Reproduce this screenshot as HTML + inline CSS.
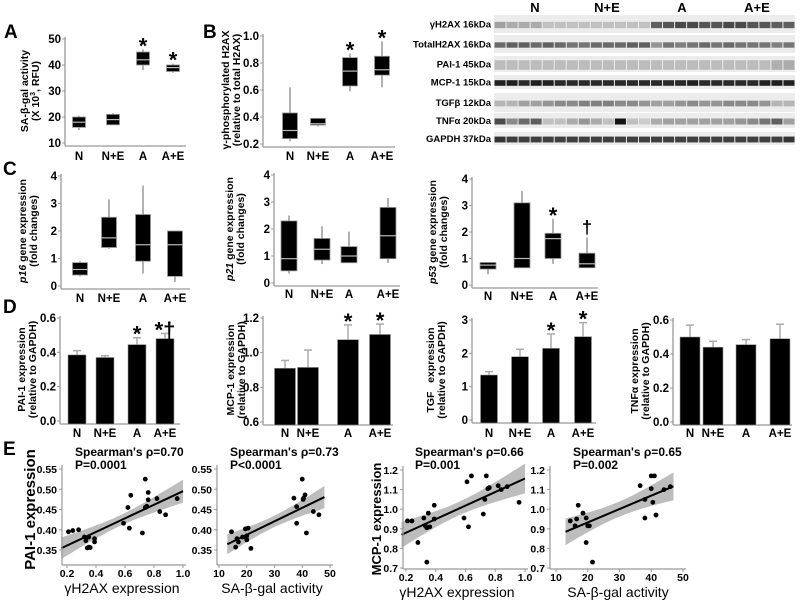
<!DOCTYPE html>
<html><head><meta charset="utf-8">
<style>
html,body{margin:0;padding:0;background:#fff;}
svg{display:block;font-family:"Liberation Sans",Arial,sans-serif;}
</style></head>
<body>
<svg id="fig" width="800" height="601" viewBox="0 0 800 601" xmlns="http://www.w3.org/2000/svg">
<g font-weight="bold" font-size="19">
<text x="4" y="38">A</text>
<text x="203" y="38">B</text>
<text x="3" y="175">C</text>
<text x="3" y="313">D</text>
<text x="3" y="455">E</text>
</g>
</svg>
<script>
// ---------- DATA ----------
const groups = ["N","N+E","A","A+E"];
// Panel A: SA-beta-gal box plots [whiskLo, q1, median, q3, whiskHi]
const saLo = [15, 17, 38, 37];
const saQ1 = [16, 17, 40, 37.5];
const saMed = [18, 19, 42, 39];
const saQ3 = [20, 21, 45, 40];
const saHi = [20.5, 21.5, 46, 40.5];
const saTicks = [10,20,30,40,50];
const saMarks = ["", "", "*", "*"];
// Panel B: gamma-H2AX
const hLo = [0.22, 0.33, 0.59, 0.62];
const hQ1 = [0.24, 0.34, 0.63, 0.71];
const hMed = [0.30, 0.35, 0.74, 0.75];
const hQ3 = [0.43, 0.39, 0.84, 0.85];
const hHi = [0.62, 0.39, 0.87, 0.96];
const hTicks = [0.2,0.4,0.6,0.8,1.0];
const hMarks = ["", "", "*", "*"];
// Panel C: p16
const p16Lo = [0.35, 1.35, 0.45, 0.15];
const p16Q1 = [0.4, 1.4, 0.9, 0.35];
const p16Med = [0.6, 1.75, 1.5, 1.5];
const p16Q3 = [0.85, 2.5, 2.6, 2.0];
const p16Hi = [0.9, 3.15, 3.65, 2.0];
// p21
const p21Lo = [0.35, 0.7, 0.75, 0.75];
const p21Q1 = [0.45, 0.85, 0.75, 0.9];
const p21Med = [0.9, 1.25, 1.0, 1.75];
const p21Q3 = [2.3, 1.65, 1.35, 2.8];
const p21Hi = [2.5, 2.1, 1.9, 3.15];
// p53
const p53Lo = [0.4, 0.65, 0.8, 0.65];
const p53Q1 = [0.6, 0.65, 1.0, 0.65];
const p53Med = [0.75, 1.0, 1.75, 0.8];
const p53Q3 = [0.85, 3.1, 1.95, 1.2];
const p53Hi = [0.85, 3.55, 2.5, 1.8];
const p53Marks = ["", "", "*", "†"];
const cTicks = [0,1,2,3,4];
// Panel D bar charts: mean and mean+SEM
const paiMean = [0.385, 0.37, 0.445, 0.48];
const paiErr = [0.41, 0.38, 0.485, 0.51];
const paiTicks = [0.0,0.2,0.4,0.6];
const paiMarks = ["", "", "*", "*†"];
const mcpMean = [0.91, 0.915, 1.075, 1.105];
const mcpErr = [0.955, 1.015, 1.16, 1.165];
const mcpTicks = [0.6,0.8,1.0,1.2];
const mcpMarks = ["", "", "*", "*"];
const tgfMean = [1.35, 1.9, 2.15, 2.5];
const tgfErr = [1.45, 2.12, 2.58, 2.92];
const tgfTicks = [0,1,2,3];
const tgfMarks = ["", "", "*", "*"];
const tnfMean = [0.5, 0.44, 0.455, 0.49];
const tnfErr = [0.57, 0.475, 0.485, 0.575];
const tnfTicks = [0.0,0.2,0.4,0.6];
// Panel E scatter data
const e1X = [0.21,0.24,0.28,0.32,0.33,0.35,0.34,0.36,0.35,0.39,0.39,0.59,0.62,0.63,0.64,0.72,0.74,0.74,0.75,0.76,0.76,0.82,0.84,0.88,0.96];
const e1Y = [0.395,0.398,0.400,0.382,0.373,0.382,0.355,0.356,0.357,0.378,0.370,0.416,0.455,0.404,0.485,0.392,0.525,0.455,0.458,0.474,0.492,0.477,0.445,0.437,0.477];
const e2X = [14.5,16,16.5,17,18.5,19.5,19.8,20,20,20.5,21.5,37,38,38,40,40.3,40.5,41,41.5,44,46];
const e2Y = [0.395,0.357,0.378,0.370,0.382,0.402,0.380,0.375,0.385,0.404,0.354,0.478,0.457,0.416,0.525,0.475,0.478,0.486,0.392,0.445,0.437];
const e3X = [0.21,0.24,0.28,0.32,0.33,0.34,0.35,0.36,0.34,0.39,0.39,0.59,0.61,0.62,0.64,0.72,0.73,0.74,0.75,0.76,0.82,0.84,0.88,0.96];
const e3Y = [0.94,0.94,0.83,0.955,0.915,0.905,0.98,0.91,0.73,1.02,0.95,0.955,1.14,0.91,1.17,0.975,1.05,1.17,1.105,1.11,1.12,1.10,1.115,1.035];
const e4X = [14.5,16,16.5,17,18.5,19.5,19.5,20,20.5,21.5,36.5,38,38,40,40,40.5,41,41.5,44,46];
const e4Y = [0.94,0.915,0.95,1.02,0.98,0.955,0.83,0.915,0.915,0.73,1.12,0.955,1.05,1.17,1.105,1.035,1.17,0.97,1.10,1.115];
const gTicksX = [0.2,0.4,0.6,0.8,1.0];
const saTicksX = [10,20,30,40,50];
const paiTicksE = [0.35,0.40,0.45,0.50,0.55];
const mcpTicksE = [0.7,0.8,0.9,1.0,1.1,1.2];
// Western blot lane intensities (0 = white, 1 = black), 25 lanes
const wbLabels = ["γH2AX 16kDa","TotalH2AX 16kDa","PAI-1 45kDa","MCP-1 15kDa","TGFβ 12kDa","TNFα 20kDa","GAPDH 37kDa"];
const wbGamma = [0.35,0.3,0.3,0.3,0.2,0.2,0.2,0.2,0.2,0.2,0.2,0.2,0.2,0.65,0.7,0.75,0.75,0.7,0.7,0.75,0.75,0.7,0.7,0.65,0.65];
const wbTotal = [0.6,0.65,0.65,0.6,0.65,0.6,0.55,0.55,0.6,0.6,0.6,0.65,0.65,0.4,0.55,0.5,0.55,0.6,0.55,0.6,0.55,0.55,0.55,0.5,0.55];
const wbPai = [0.22,0.22,0.22,0.22,0.22,0.22,0.22,0.22,0.22,0.22,0.22,0.22,0.22,0.22,0.22,0.22,0.22,0.22,0.22,0.22,0.22,0.22,0.22,0.28,0.3];
const wbMcp = [0.95,0.95,0.9,0.95,0.95,0.9,0.9,0.9,0.9,0.9,0.9,0.9,0.9,0.9,0.9,0.9,0.95,0.9,0.9,0.9,0.9,0.9,0.95,0.95,0.95];
const wbTgf = [0.25,0.25,0.35,0.35,0.4,0.45,0.45,0.5,0.5,0.5,0.45,0.45,0.4,0.35,0.35,0.4,0.45,0.4,0.4,0.45,0.45,0.45,0.4,0.25,0.25];
const wbTnf = [0.75,0.45,0.6,0.65,0.2,0.2,0.3,0.4,0.3,0.2,1.0,0.2,0.15,0.3,0.35,0.35,0.35,0.35,0.35,0.35,0.4,0.45,0.55,0.65,0.35];
const wbGapdh = [0.85,0.8,0.8,0.8,0.8,0.8,0.8,0.8,0.8,0.8,0.8,0.8,0.8,0.8,0.8,0.8,0.8,0.8,0.8,0.8,0.8,0.8,0.8,0.8,0.85];

// ---------- HELPERS ----------
const NS = "http://www.w3.org/2000/svg";
const fig = document.getElementById('fig');
function mk(tag, attrs, parent){
  const e = document.createElementNS(NS, tag);
  for (const k in attrs) e.setAttribute(k, attrs[k]);
  (parent||fig).appendChild(e);
  return e;
}
function scale(v0,v1,p0,p1){ return v => p0 + (v - v0) * (p1 - p0) / (v1 - v0); }
function fmt(v, d){ return d === 0 ? String(v) : v.toFixed(d); }

function axes(g, L){
  const y = scale(L.vmin, L.vmax, L.y0, L.y1);
  const ya = mk('line', {x1:L.ax, x2:L.ax, y1:L.y1-2, y2:L.y0+3, stroke:'#999', 'stroke-width':1.3}, g);
  
  
  const xa = mk('line', {x1:L.ax, x2:L.xEnd, y1:L.y0+3, y2:L.y0+3, stroke:'#999', 'stroke-width':1.3}, g);
  
  
  L.ticks.forEach(t => {
    const tk = mk('line', {x1:L.ax-3, x2:L.ax, y1:y(t), y2:y(t), stroke:'#999'}, g);
    
    
    const tl = mk('text', {x:L.ax-4, y:y(t)+4, 'text-anchor':'end', 'font-size':11.5, 'font-weight':'bold'}, g);
    
    
    tl.textContent = fmt(t, L.dec);
  });
  L.cx.forEach((cx,i) => {
    const xl = mk('text', {x:cx, y:L.labY, 'text-anchor':'middle', 'font-size':L.labFs||11.5, 'font-weight':'bold'}, g);
    
    
    xl.textContent = groups[i];
  });
  L.ylab.forEach((s, i) => {
    const lx = L.ylx + i*11;
    const yt = mk('text', {transform:`translate(${lx},${(L.y0+L.y1)/2}) rotate(-90)`, 'text-anchor':'middle', 'font-size':10.5, 'font-weight':'bold'}, g);
    
    
    yt.innerHTML = s;
  });
  return y;
}

function boxChart(name, L, lo, q1, med, q3, hi, marks){
  const g = mk('g', {});
  
  
  const y = axes(g, L);
  groups.forEach((grp, i) => {
    const cx = L.cx[i], hw = L.bw/2;
    const w = mk('line', {x1:cx, x2:cx, y1:y(lo[i]), y2:y(hi[i]), stroke:'#999', 'stroke-width':1.5}, g);
    
    
    const b = mk('rect', {x:cx-hw, y:y(q3[i]), width:L.bw, height:Math.max(1, y(q1[i]) - y(q3[i])), fill:'#000', stroke:'#999', 'stroke-width':0.8}, g);
    
    
    const m = mk('line', {x1:cx-hw, x2:cx+hw, y1:y(med[i]), y2:y(med[i]), stroke:'#bbb', 'stroke-width':1.2}, g);
    
    
    if (marks && marks[i]) {
      const s = mk('text', {x:cx, y:y(hi[i]) - 4 + (marks[i]==='†'?0:8), 'text-anchor':'middle', 'font-size':marks[i]==='†'?18:22, 'font-weight':'bold'}, g);
      
      
      s.textContent = marks[i];
    }
  });
}

function barChart(name, L, mean, err, marks){
  const g = mk('g', {});
  
  
  const y = axes(g, L);
  groups.forEach((grp, i) => {
    const cx = L.cx[i], hw = L.bw/2;
    const e = mk('line', {x1:cx, x2:cx, y1:y(mean[i]), y2:y(err[i]), stroke:'#aaa', 'stroke-width':1.5}, g);
    
    
    const c = mk('line', {x1:cx-4, x2:cx+4, y1:y(err[i]), y2:y(err[i]), stroke:'#aaa', 'stroke-width':1.5}, g);
    
    
    const b = mk('rect', {x:cx-hw, y:y(mean[i]), width:L.bw, height:(L.y0+3) - y(mean[i]), fill:'#000', stroke:'#999', 'stroke-width':0.6}, g);
    
    
    if (marks && marks[i]) {
      const s = mk('text', {x:cx, y:y(err[i]) + 4, 'text-anchor':'middle', 'font-size':22, 'font-weight':'bold'}, g);
      
      
      s.textContent = marks[i];
    }
  });
}

function scatter(name, S, xs, ys){
  const g = mk('g', {});
  
  
  const x = scale(S.xv0, S.xv1, S.xp0, S.xp1);
  const y = scale(S.yv0, S.yv1, S.yp0, S.yp1);
  const n = xs.length;
  const mx = xs.reduce((a,b)=>a+b,0)/n, my = ys.reduce((a,b)=>a+b,0)/n;
  let sxx=0, sxy=0; for (let i=0;i<n;i++){ sxx += (xs[i]-mx)**2; sxy += (xs[i]-mx)*(ys[i]-my); }
  const b1 = sxy/sxx, b0 = my - b1*mx;
  let sse=0; for (let i=0;i<n;i++) sse += (ys[i]-b0-b1*xs[i])**2;
  const s = Math.sqrt(sse/(n-2)), t = 2.07;
  const up=[], dn=[];
  for (let k=0;k<=30;k++){
    const xv = S.fx0 + (S.fx1 - S.fx0)*k/30;
    const se = s*Math.sqrt(1/n + (xv-mx)**2/sxx);
    const yv = b0 + b1*xv;
    up.push(x(xv).toFixed(1)+','+y(yv+t*se).toFixed(1));
    dn.unshift(x(xv).toFixed(1)+','+y(yv-t*se).toFixed(1));
  }
  const band = mk('polygon', {points: up.concat(dn).join(' '), fill:'#bdbdbd'}, g);
  
  
  const fl = mk('line', {x1:x(S.fx0), y1:y(b0+b1*S.fx0), x2:x(S.fx1), y2:y(b0+b1*S.fx1), stroke:'#000', 'stroke-width':2}, g);
  
  
  xs.forEach((xv,i) => {
    const d = mk('circle', {cx:x(xv), cy:y(ys[i]), r:2.4, fill:'#000'}, g);
    
    
  });
  const ya = mk('line', {x1:S.ax, x2:S.ax, y1:S.yp1-4, y2:S.base, stroke:'#999', 'stroke-width':1.2}, g);
  
  
  const xa = mk('line', {x1:S.ax, x2:S.xp1+3, y1:S.base, y2:S.base, stroke:'#999', 'stroke-width':1.2}, g);
  
  
  S.yt.forEach(v => {
    const tk = mk('line', {x1:S.ax-3, x2:S.ax, y1:y(v), y2:y(v), stroke:'#999'}, g);
    
    
    const tl = mk('text', {x:S.ax-5, y:y(v)+4, 'text-anchor':'end', 'font-size':10.5, 'font-weight':'bold'}, g);
    
    
    tl.textContent = fmt(v, S.ydec);
  });
  S.xt.forEach(v => {
    const tk = mk('line', {x1:x(v), x2:x(v), y1:S.base, y2:S.base+3, stroke:'#999'}, g);
    
    
    const tl = mk('text', {x:x(v), y:S.base+12, 'text-anchor':'middle', 'font-size':10.5, 'font-weight':'bold'}, g);
    
    
    tl.textContent = fmt(v, S.xdec);
  });
  const xt = mk('text', {x:S.xlx, y:S.base+28, 'text-anchor':'middle', 'font-size':14}, g);
  
  
  xt.textContent = S.xlab;
  const t1 = mk('text', {x:S.tx, y:456, 'font-size':12, 'font-weight':'bold'}, g);
  
  
  t1.textContent = S.t1;
  const t2 = mk('text', {x:S.tx, y:469, 'font-size':12, 'font-weight':'bold'}, g);
  
  
  t2.textContent = S.t2;
  if (S.ylab) {
    const yl = mk('text', {transform:`translate(${S.ylx},${(S.yp0+S.yp1)/2}) rotate(-90)`, 'text-anchor':'middle', 'font-size':S.ylfs||15, 'font-weight':'bold'}, g);
    
    
    yl.textContent = S.ylab;
  }
}

// ---------- PANELS A, B ----------
boxChart('panel-a-sa-beta-gal', {ax:65, y0:143, y1:39, vmin:10, vmax:50, ticks:saTicks, dec:0, cx:[79,113,143,173], bw:13, xEnd:186, labY:160, ylx:28, ylab:['SA-β-gal activity','(X 10<tspan font-size="7" dy="-4">3</tspan><tspan dy="4">, RFU)</tspan>']}, saLo, saQ1, saMed, saQ3, saHi, saMarks);
boxChart('panel-b-gamma-h2ax', {ax:263, y0:144, y1:36, vmin:0.2, vmax:1.0, ticks:hTicks, dec:1, cx:[290,318,350,382], bw:15, xEnd:395, labY:160, ylx:229, ylab:['γ-phosphorylated H2AX','(relative to total H2AX)']}, hLo, hQ1, hMed, hQ3, hHi, hMarks);

// ---------- PANEL C ----------
boxChart('panel-c-p16', {ax:61, y0:286, y1:176, vmin:0, vmax:4, ticks:cTicks, dec:0, cx:[80,109,143,175], bw:15, xEnd:190, labY:302, ylx:26, ylab:['<tspan font-style="italic">p16</tspan> gene expression','(fold changes)']}, p16Lo, p16Q1, p16Med, p16Q3, p16Hi, null);
boxChart('panel-c-p21', {ax:274, y0:283, y1:175, vmin:0, vmax:4, ticks:cTicks, dec:0, cx:[289,322,349,388], bw:16, xEnd:400, labY:298, ylx:233, ylab:['<tspan font-style="italic">p21</tspan> gene expression','(fold changes)']}, p21Lo, p21Q1, p21Med, p21Q3, p21Hi, null);
boxChart('panel-c-p53', {ax:472, y0:285, y1:179, vmin:0, vmax:4, ticks:cTicks, dec:0, cx:[488,522,553,587], bw:16, xEnd:598, labY:300, ylx:436, ylab:['<tspan font-style="italic">p53</tspan> gene expression','(fold changes)']}, p53Lo, p53Q1, p53Med, p53Q3, p53Hi, p53Marks);

// ---------- PANEL D ----------
barChart('panel-d-pai1', {ax:60, y0:421, y1:318, vmin:0, vmax:0.6, ticks:paiTicks, dec:1, cx:[77,105,137,165], bw:18, xEnd:180, labY:437, ylx:25, ylab:['PAI-1 expression','(relative to GAPDH)']}, paiMean, paiErr, paiMarks);
barChart('panel-d-mcp1', {ax:263, y0:422, y1:318, vmin:0.6, vmax:1.2, ticks:mcpTicks, dec:1, cx:[285,308,348,380], bw:21, xEnd:393, labY:437, ylx:234, ylab:['MCP-1 expression','(relative to GAPDH)']}, mcpMean, mcpErr, mcpMarks);
barChart('panel-d-tgf', {ax:472, y0:420, y1:320, vmin:0, vmax:3, ticks:tgfTicks, dec:0, cx:[489,520,551,583], bw:17, xEnd:596, labY:437, ylx:434, ylab:['TGF &#160;&#160;expression','(relative to GAPDH)']}, tgfMean, tgfErr, tgfMarks);
barChart('panel-d-tnf', {ax:673, y0:422, y1:320, vmin:0, vmax:0.6, ticks:tnfTicks, dec:1, cx:[690,713,746,780], bw:20, xEnd:792, labY:437, ylx:638, ylab:['TNFα expression','(relative to GAPDH)']}, tnfMean, tnfErr, null);

// ---------- PANEL E ----------
scatter('panel-e-pai1-vs-h2ax', {xv0:0.2, xv1:1.0, xp0:67, xp1:183, yv0:0.35, yv1:0.55, yp0:550, yp1:469, ax:62, base:565, fx0:0.16, fx1:1.0, yt:paiTicksE, ydec:2, xt:gTicksX, xdec:1, xlx:122, xlab:'γH2AX expression', tx:75, t1:"Spearman's ρ=0.70", t2:'P=0.0001', ylx:35, ylab:'PAI-1 expression'}, e1X, e1Y);
scatter('panel-e-pai1-vs-sagal', {xv0:10, xv1:50, xp0:219, xp1:330, yv0:0.35, yv1:0.55, yp0:550, yp1:469, ax:217, base:565, fx0:13, fx1:48, yt:paiTicksE, ydec:2, xt:saTicksX, xdec:0, xlx:272, xlab:'SA-β-gal activity', tx:230, t1:"Spearman's ρ=0.73", t2:'P<0.0001'}, e2X, e2Y);
scatter('panel-e-mcp1-vs-h2ax', {xv0:0.2, xv1:1.0, xp0:406, xp1:525, yv0:0.7, yv1:1.2, yp0:568, yp1:470, ax:403, base:569, fx0:0.17, fx1:1.0, yt:mcpTicksE, ydec:1, xt:gTicksX, xdec:1, xlx:457, xlab:'γH2AX expression', tx:415, t1:"Spearman's ρ=0.66", t2:'P=0.001', ylx:381, ylfs:13, ylab:'MCP-1 expression'}, e3X, e3Y);
scatter('panel-e-mcp1-vs-sagal', {xv0:10, xv1:50, xp0:556, xp1:683, yv0:0.7, yv1:1.2, yp0:568, yp1:470, ax:550, base:569, fx0:13, fx1:47, yt:mcpTicksE, ydec:1, xt:saTicksX, xdec:0, xlx:618, xlab:'SA-β-gal activity', tx:573, t1:"Spearman's ρ=0.65", t2:'P=0.002'}, e4X, e4Y);

// ---------- WESTERN BLOT ----------
(function(){
  const g = mk('g', {});
  
  
  const rows = [[15,33,wbGamma,0.35],[35,53,wbTotal,0.3],[56,72,wbPai,0.6],[75,89,wbMcp,0.4],[93,112,wbTgf,0.3],[113,128,wbTnf,0.4],[132,145,wbGapdh,0.45]];
  const x0 = 494, x1 = 795, nl = 25, lw = (x1-x0)/nl;
  const heads = [[535,'N'],[607,'N+E'],[682,'A'],[757,'A+E']];
  heads.forEach(h => {
    const t = mk('text', {x:h[0], y:12, 'text-anchor':'middle', 'font-size':13, 'font-weight':'bold'}, g);
    
    
    t.textContent = h[1];
  });
  rows.forEach((r, ri) => {
    const bg = mk('rect', {x:x0, y:r[0], width:x1-x0, height:r[1]-r[0], fill:'#ececec'}, g);
    
    
    const lab = mk('text', {x:491, y:(r[0]+r[1])/2+3.5, 'text-anchor':'end', 'font-size':9.5, 'font-weight':'bold'}, g);
    
    
    lab.textContent = wbLabels[ri];
    const h = r[1]-r[0];
    r[2].forEach((v, li) => {
      const c = Math.round(235 - v*215);
      const bh = h*r[3];
      const band = mk('rect', {x:x0+li*lw+0.5, y:r[0]+(h-bh)/2+1, width:lw-1, height:bh, fill:`rgb(${c},${c},${c})`}, g);
      
      
    });
  });
})();
</script>
</body></html>
